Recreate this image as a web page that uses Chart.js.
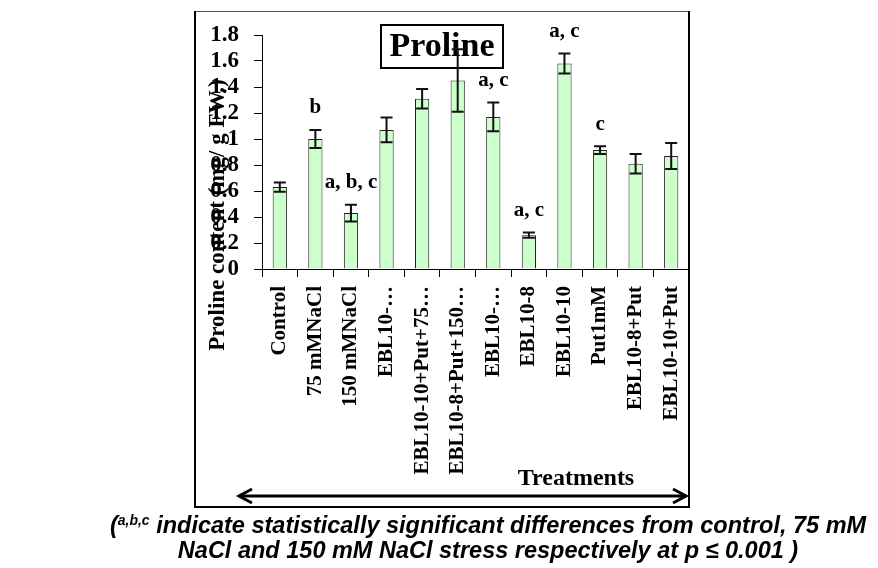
<!DOCTYPE html>
<html>
<head>
<meta charset="utf-8">
<script src="https://cdn.jsdelivr.net/npm/chart.js@4"></script>
<style>
  body { margin: 0; background: #fff; }
  #wrap { position: relative; width: 878px; height: 568px; }
  canvas { position: absolute; left: 0; top: 0; }
  .note {
    position: absolute; left: 0; width: 976px; text-align: center;
    font: italic bold 23.5px "Liberation Sans", Arial, sans-serif; color: #000;
    white-space: nowrap; line-height: 26px;
  }
  .note sup { font-size: 14px; line-height: 0; vertical-align: 8px; }
</style>
</head>
<body>
<div id="wrap">
  <canvas id="chart" width="878" height="568"></canvas>
  <div class="note" style="top:512px">(<sup>a,b,c</sup> indicate statistically significant differences from control, 75 mM</div>
  <div class="note" style="top:537px">NaCl and 150 mM NaCl stress respectively at p ≤ 0.001 )</div>
</div>
<script>
const TREATMENTS = [
  'Control',
  '75 mMNaCl',
  '150 mMNaCl',
  'EBL10-…',
  'EBL10-10+Put+75…',
  'EBL10-8+Put+150…',
  'EBL10-…',
  'EBL10-8',
  'EBL10-10',
  'Put1mM',
  'EBL10-8+Put',
  'EBL10-10+Put'
]
const PROLINE = [0.63, 1.00, 0.43, 1.07, 1.31, 1.45, 1.17, 0.26, 1.58, 0.915, 0.81, 0.87]
const ERRORS = [0.035, 0.07, 0.065, 0.095, 0.075, 0.24, 0.11, 0.02, 0.077, 0.03, 0.075, 0.1]
const LETTERS = ['', 'b', 'a, b, c', '', '', '', 'a, c', 'a, c', 'a, c', 'c', '', '']
const Y_TICKS = [0, 0.2, 0.4, 0.6, 0.8, 1, 1.2, 1.4, 1.6, 1.8]

const SERIF = '"Liberation Serif", "Times New Roman", serif'

// frame, arrow, axis titles, title box, error bars and letters
const decorations = {
  id: 'decorations',
  beforeDraw(chart) {
    const { ctx } = chart
    ctx.save()
    ctx.fillStyle = '#fff'
    ctx.fillRect(0, 0, chart.width, chart.height)
    ctx.strokeStyle = '#555'
    ctx.lineWidth = 1
    ctx.beginPath()
    ctx.moveTo(195, 11.5)
    ctx.lineTo(689, 11.5)
    ctx.stroke()
    ctx.strokeStyle = '#000'
    ctx.lineWidth = 2
    ctx.beginPath()
    ctx.moveTo(195, 11)
    ctx.lineTo(195, 507)
    ctx.lineTo(689, 507)
    ctx.lineTo(689, 11)
    ctx.stroke()

    // double arrow
    ctx.lineWidth = 3
    ctx.beginPath()
    ctx.moveTo(239, 496)
    ctx.lineTo(686, 496)
    ctx.stroke()
    ctx.beginPath()
    ctx.moveTo(252, 489)
    ctx.lineTo(239, 496)
    ctx.lineTo(252, 503)
    ctx.moveTo(673, 489)
    ctx.lineTo(686, 496)
    ctx.lineTo(673, 503)
    ctx.stroke()

    ctx.fillStyle = '#000'
    ctx.font = 'bold 24px ' + SERIF
    ctx.textAlign = 'center'
    ctx.textBaseline = 'alphabetic'
    ctx.fillText('Treatments', 576, 485)
    ctx.restore()
  },
  beforeDatasetsDraw(chart) {
    const { ctx } = chart
    ctx.save()
    ctx.fillStyle = '#fff'
    ctx.fillRect(381, 25, 122, 43)
    ctx.strokeStyle = '#000'
    ctx.lineWidth = 2
    ctx.strokeRect(381, 25, 122, 43)
    ctx.fillStyle = '#000'
    ctx.font = 'bold 34px ' + SERIF
    ctx.textAlign = 'center'
    ctx.textBaseline = 'middle'
    ctx.fillText('Proline', 442, 47)
    ctx.restore()
  },
  afterDatasetsDraw(chart) {
    const { ctx } = chart
    const y = chart.scales.y
    const meta = chart.getDatasetMeta(0)
    ctx.save()
    ctx.strokeStyle = '#111'
    ctx.lineWidth = 2
    ctx.fillStyle = '#000'
    ctx.font = 'bold 21px ' + SERIF
    ctx.textAlign = 'center'
    ctx.textBaseline = 'middle'
    meta.data.forEach((bar, i) => {
      const top = y.getPixelForValue(PROLINE[i] + ERRORS[i])
      const bottom = y.getPixelForValue(PROLINE[i] - ERRORS[i])
      ctx.beginPath()
      ctx.moveTo(bar.x, top)
      ctx.lineTo(bar.x, bottom)
      ctx.moveTo(bar.x - 6, top)
      ctx.lineTo(bar.x + 6, top)
      ctx.moveTo(bar.x - 6, bottom)
      ctx.lineTo(bar.x + 6, bottom)
      ctx.stroke()
      if (LETTERS[i]) {
        ctx.fillText(LETTERS[i], bar.x, top - 22)
      }
    })
    ctx.restore()
  },
  afterDraw(chart) {
    const { ctx } = chart
    ctx.save()
    ctx.translate(218, 215)
    ctx.rotate(-Math.PI / 2)
    ctx.fillStyle = '#000'
    ctx.font = 'bold 23px ' + SERIF
    ctx.textAlign = 'center'
    ctx.textBaseline = 'middle'
    ctx.fillText('Proline content (mg/ g FW.)', 0, 0)
    ctx.restore()
  }
}

new Chart(document.getElementById('chart'), {
  type: 'bar',
  data: {
    labels: TREATMENTS,
    datasets: [
      {
        label: 'Proline',
        data: PROLINE,
        backgroundColor: '#ccffcc',
        borderColor: '#222',
        borderWidth: 1,
        barPercentage: 0.4,
        categoryPercentage: 1
      }
    ]
  },
  options: {
    responsive: false,
    animation: false,
    layout: {
      padding: { left: 195, top: 35, right: 189, bottom: 89 }
    },
    scales: {
      x: {
        grid: { drawOnChartArea: false, tickLength: 8, color: '#000', offset: true },
        border: { color: '#000', width: 1 },
        ticks: {
          minRotation: 90,
          maxRotation: 90,
          autoSkip: false,
          padding: 9,
          color: '#000',
          font: { family: SERIF, weight: 'bold', size: 21 }
        },
        afterFit: (scale) => { scale.height = 210 }
      },
      y: {
        min: 0,
        max: 1.8,
        afterBuildTicks: (scale) => { scale.ticks = Y_TICKS.map((v) => ({ value: v })) },
        grid: { drawOnChartArea: false, tickLength: 8, color: '#000' },
        border: { color: '#000', width: 1 },
        ticks: {
          autoSkip: false,
          padding: 15,
          color: '#000',
          font: { family: SERIF, weight: 'bold', size: 23 },
          callback: (v) => String(Number(v.toFixed(1)))
        },
        afterFit: (scale) => { scale.width = 67 }
      }
    },
    plugins: {
      legend: { display: false },
      tooltip: { enabled: false }
    }
  },
  plugins: [decorations]
})
</script>
</body>
</html>
